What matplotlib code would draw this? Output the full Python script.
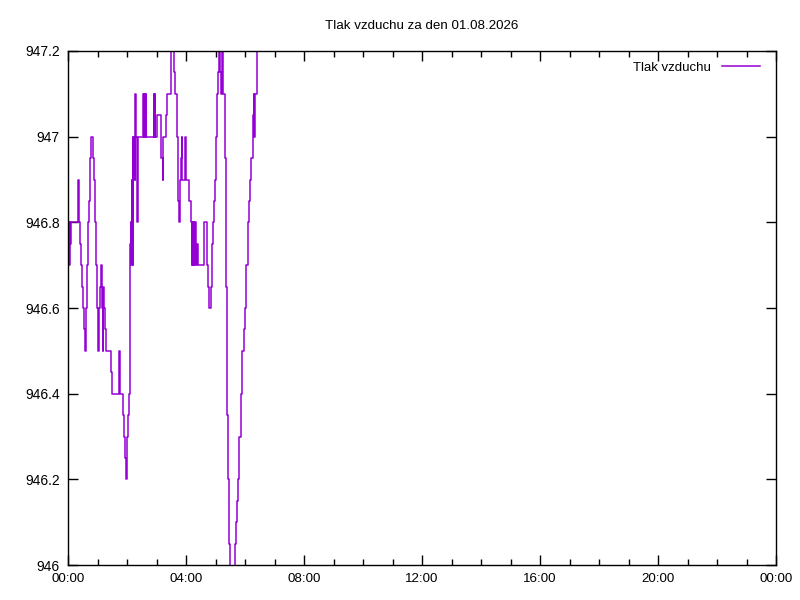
import matplotlib
matplotlib.use('Agg')
import matplotlib.pyplot as plt
from matplotlib.ticker import MultipleLocator, FuncFormatter
import numpy as np

# minutes after midnight and pressure (hPa)
minutes = [0, 1.4, 3.5, 5, 6.7, 19.7, 21, 22.4, 23, 25, 27, 29, 31, 33, 35, 36, 38, 40,
           42, 44, 45.4, 47.4, 51.5, 53.5, 55.5, 57.6, 59.6, 61.6, 63, 63.7, 65.7, 67.8,
           69, 70.5, 71.8, 73, 75, 76.7, 88, 90, 103, 104.3, 105, 112.5, 114.5, 116.5,
           117.4, 119.4, 121.4, 123.5, 125.5, 126.8, 127.5, 128.8, 129.5, 130, 131.6,
           132.2, 132.8, 134.2, 135.6, 137, 138.3, 140.4, 141, 143, 152, 153.3, 154,
           155.2, 156.6, 158, 159.2, 174.3, 175.5, 176.3, 177.6, 181, 189.8, 192.6, 194,
           200, 202, 210, 212, 216, 218, 221, 223, 225, 227, 230.5, 231.2, 232.4, 236.5,
           238, 239.3, 246.7, 249.5, 251.6, 253, 254.3, 255.8, 257, 258.3, 259.8, 261.8,
           265, 276.6, 283.3, 285.4, 287.4, 290.3, 292.3, 294.3, 296.4, 298.4, 300.4,
           302.5, 305, 306.6, 309, 310.6, 312.6, 315.3, 320, 322, 323.5, 326, 328, 330,
           339, 341, 343, 346, 348.5, 352, 354.5, 357, 360, 363, 366, 368, 370, 373, 376,
           377.5, 378.7, 380, 385, 387]
pressure = [946.8, 946.7, 946.8, 946.75, 946.8, 946.85, 946.9, 946.85, 946.8, 946.75,
            946.7, 946.65, 946.6, 946.55, 946.5, 946.6, 946.7, 946.8, 946.85, 946.9,
            946.95, 947.0, 946.95, 946.9, 946.8, 946.7, 946.6, 946.5, 946.55, 946.6,
            946.65, 946.7, 946.6, 946.5, 946.65, 946.6, 946.55, 946.5, 946.45, 946.4,
            946.45, 946.5, 946.4, 946.35, 946.3, 946.25, 946.2, 946.3, 946.35, 946.4,
            946.6, 946.75, 946.8, 946.7, 946.9, 946.8, 947.0, 946.7, 946.95, 947.0,
            946.9, 947.1, 947.0, 946.8, 946.8, 947.0, 947.05, 947.1, 947.0, 947.1,
            947.0, 947.1, 947.0, 947.1, 947.0, 947.1, 947.0, 947.05, 946.95, 946.9,
            947.0, 947.05, 947.1, 947.25, 947.25, 947.15, 947.1, 947.0, 946.85, 946.8,
            946.9, 946.95, 947.0, 946.9, 946.9, 947.0, 946.9, 946.85, 946.8, 946.7,
            946.8, 946.7, 946.8, 946.7, 946.8, 946.7, 946.75, 946.7, 946.8, 946.7,
            946.65, 946.6, 946.65, 946.75, 946.8, 946.85, 946.9, 947.0, 947.1, 947.15,
            947.25, 947.15, 947.1, 947.25, 947.1, 946.95, 946.65, 946.35, 946.2, 946.05,
            945.95, 946.05, 946.1, 946.15, 946.2, 946.3, 946.4, 946.5, 946.55, 946.6,
            946.7, 946.8, 946.85, 946.9, 946.95, 947.05, 947.1, 947.0, 947.1, 947.25,
            947.25]

hour_ticks = list(range(0, 25, 4))
hour_labels = ['%02d:00' % (h % 24) for h in hour_ticks]
y_ticks = [946.0, 946.2, 946.4, 946.6, 946.8, 947.0, 947.2]

plt.rcParams['font.family'] = ['Liberation Sans', 'DejaVu Sans']
plt.rcParams['font.size'] = 9.6

fig = plt.figure(figsize=(8, 6), dpi=100)
ax = fig.add_axes([0.085, 0.0583, 0.885, 0.8567])

hours = np.array(minutes) / 60.0
ax.plot(hours, pressure, drawstyle='steps-post', color='#9400d3', lw=1.1, label='Tlak vzduchu')

ax.set_xlim(0, 24)
ax.set_ylim(946.0, 947.2)
ax.set_xticks(hour_ticks)
ax.set_xticklabels(hour_labels)
ax.xaxis.set_minor_locator(MultipleLocator(1))
ax.set_yticks(y_ticks)
ax.yaxis.set_major_formatter(FuncFormatter(lambda v, p: '%g' % round(v, 1)))

ax.tick_params(which='both', direction='in', top=True, right=True, width=1, colors='black')
ax.tick_params(which='major', length=7, pad=6)
ax.tick_params(axis='y', which='major', labelsize=10)
ax.tick_params(which='minor', length=4)
for s in ax.spines.values():
    s.set_linewidth(1)

ax.set_title('Tlak vzduchu za den 01.08.2026', fontsize=9.6, pad=16)
ax.legend(loc='upper right', bbox_to_anchor=(0.994, 1.002), frameon=False, markerfirst=False,
          handlelength=2.9, borderaxespad=0.5, fontsize=9.5)

fig.savefig('out.png', dpi=100)
